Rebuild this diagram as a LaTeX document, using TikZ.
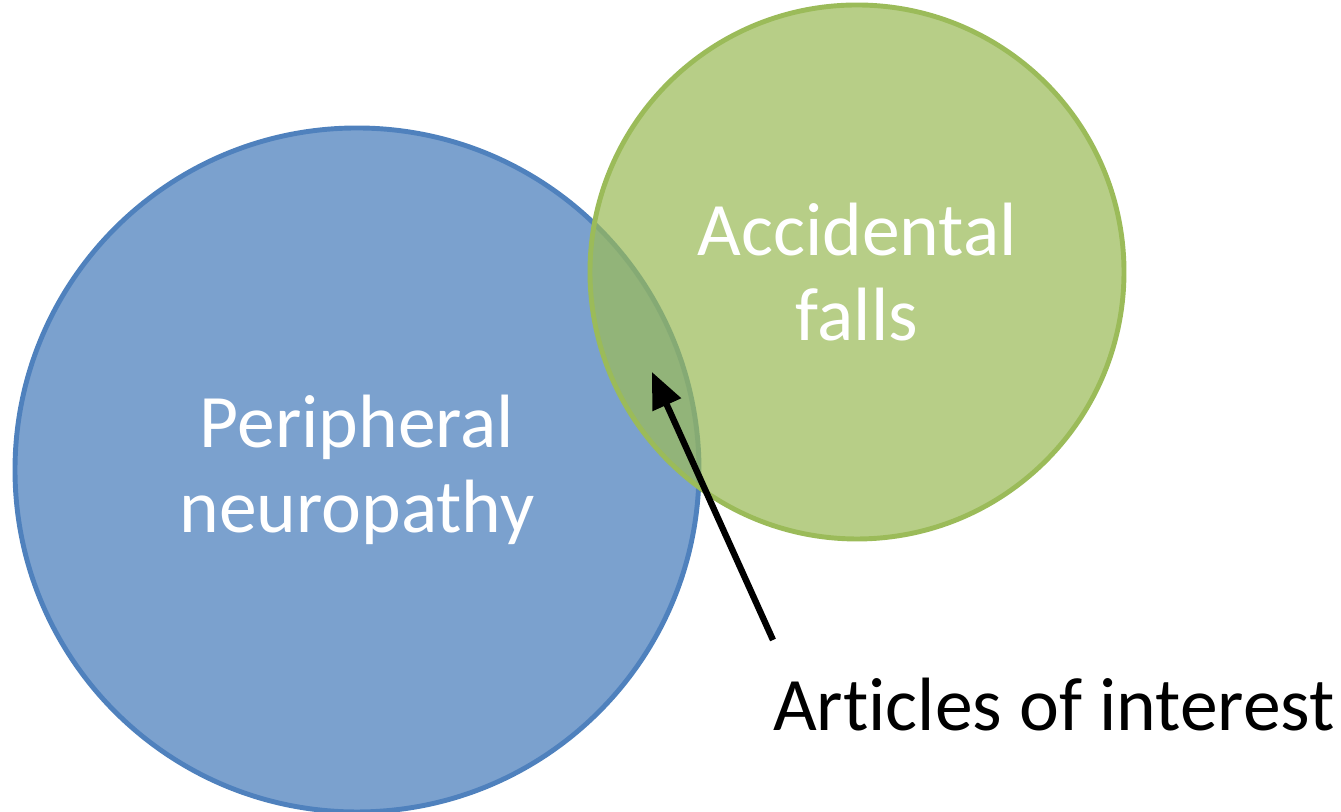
\documentclass[tikz,border=0pt]{standalone}
\usepackage{fontspec}
\setmainfont{Carlito}[Ligatures=CommonOff]
\usetikzlibrary{arrows.meta}
\definecolor{neuroblue}{HTML}{4F81BD}
\definecolor{fallsgreen}{HTML}{9BBB59}
\tikzset{
	venn/.style={circle, inner sep=0pt, align=center, text=white, font=\fontsize{21.5}{24.2}\selectfont, line width=1.4pt},
}

\begin{document}
\begin{tikzpicture}
			%%%%% START %%%%%
			
			\useasboundingbox (0, 0) rectangle (13.41, 8.12);
			
			\node[venn, draw=neuroblue, fill=neuroblue, fill opacity=0.75, text opacity=1, minimum size=6.84cm] (neuro) at (3.57, 3.42) {Peripheral\\neuropathy};
			\node[venn, draw=fallsgreen, fill=fallsgreen, fill opacity=0.72, text opacity=1, minimum size=5.34cm] (falls) at (8.57, 5.40) {Accidental\\falls};
			
			\node[font=\fontsize{21.5}{24.2}\selectfont, inner sep=0pt] (articles) at (10.54, 1.07) {Articles of interest};
			
			\coordinate (tail) at (7.73, 1.72);
			\coordinate (tip) at (6.52, 4.40);
			\draw[line width=1.8pt, -{Triangle[length=0.36cm, width=0.3cm]}] (tail) -- (tip);
			
			%%%%% END %%%%%
		\end{tikzpicture}
\end{document}
